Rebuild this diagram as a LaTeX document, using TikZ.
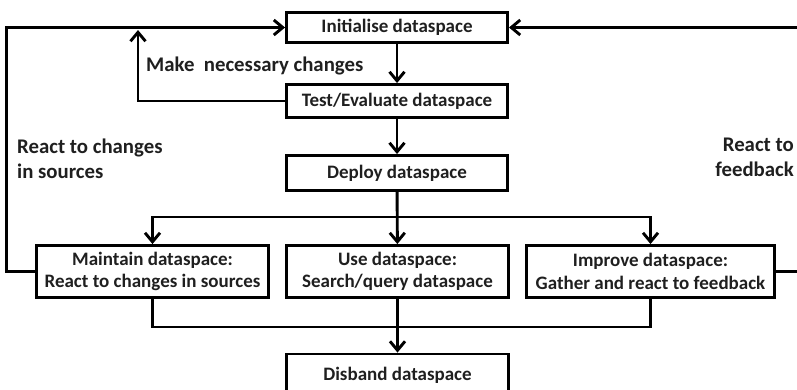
\documentclass[tikz,border=0pt]{standalone}
\usepackage{fontspec}
\setmainfont{Carlito}
\usetikzlibrary{arrows.meta}
\begin{document}
\begin{tikzpicture}[x=1pt,y=-1pt,
  box/.style={draw=black, line width=2.9pt, align=center, inner sep=0pt,
    font=\fontsize{19}{22.5}\selectfont\bfseries, text=black!88},
  conn/.style={line width=2.9pt, draw=black},
  arr/.style={conn, -{Straight Barb[length=9pt,width=15pt]}},
  lbl/.style={inner sep=0pt, font=\fontsize{20.8}{25}\selectfont\bfseries, text=black!88}]
\useasboundingbox (0,0) rectangle (797,389);
\clip (0,0) rectangle (797,389);

\node[box, minimum width=221pt, minimum height=30pt] (init) at (397,27.5) {Initialise dataspace};
\node[box, minimum width=221pt, minimum height=33pt] (test) at (397,101) {Test/Evaluate dataspace};
\node[box, minimum width=221pt, minimum height=35pt] (deploy) at (397,173) {Deploy dataspace};
\node[box, minimum width=232pt, minimum height=52pt] (maint) at (152.5,271.5) {Maintain dataspace:\\React to changes in sources};
\node[box, minimum width=222pt, minimum height=52pt] (use) at (397.5,271.5) {Use dataspace:\\Search/query dataspace};
\node[box, minimum width=248pt, minimum height=52pt] (improve) at (650.5,271.5) {Improve dataspace:\\Gather and react to feedback};
\node[box, minimum width=222pt, minimum height=42pt] (disband) at (397.5,375) {Disband dataspace};

\node[lbl, anchor=west] (mnc) at (146,66) {Make\ \ necessary changes};
\node[lbl, anchor=north west, align=left] (rcs) at (17,139) {React to changes\\in sources};
\node[lbl, anchor=north east, align=right] (rfb) at (794,138) {React to\\feedback};

\coordinate (br) at (397,217);
\coordinate (jn) at (397,327);
\coordinate (L) at (6.5,271.5);
\coordinate (R) at (805,271.5);
\coordinate (mk) at (138,30);

\draw[arr] (init) -- (test);
\draw[arr] (test) -- (deploy);
\draw[arr] (deploy.south) |- (maint.north |- br) -- (maint.north);
\draw[arr] (deploy.south) |- (improve.north |- br) -- (improve.north);
\draw[arr] (deploy) -- (use);
\draw[conn] (maint.south) |- (jn);
\draw[conn] (improve.south) |- (jn);
\draw[arr] (use) -- (disband);
\draw[arr] (maint.west) -- (L) |- (init.west);
\draw[arr] (improve.east) -- (R) |- (init.east);
\draw[arr] (test.west) -| (mk);
\end{tikzpicture}
\end{document}
